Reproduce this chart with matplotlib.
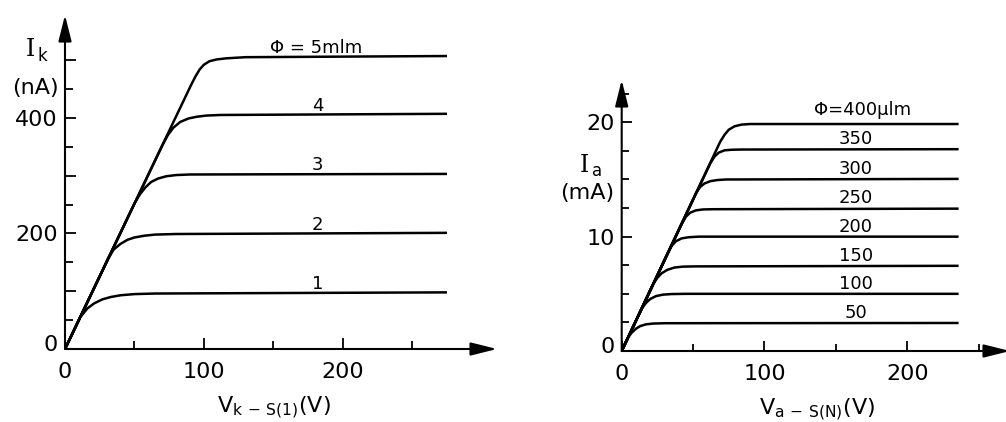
import matplotlib.pyplot as plt
from matplotlib.ticker import MultipleLocator, FixedLocator
from matplotlib.transforms import ScaledTranslation

# cathode current I_k (nA) vs V_k-S(1) (V), one curve per luminous flux
vk_1 = [0, 11, 16, 21, 27, 33, 40, 50, 65, 275]
ik_1 = [0, 55, 70, 79, 86, 90, 93, 95, 96, 98]
vk_2 = [0, 31, 35, 40, 45, 50, 57, 65, 80, 275]
ik_2 = [0, 156, 172, 182, 189, 193, 196, 198, 199, 201]
vk_3 = [0, 50, 54, 58, 62, 67, 73, 80, 90, 275]
ik_3 = [0, 252, 268, 280, 289, 295, 299, 301, 302, 303]
vk_4 = [0, 70, 74, 78, 83, 89, 95, 102, 112, 275]
ik_4 = [0, 352, 370, 383, 393, 399, 402, 404, 405, 407]
vk_5 = [0, 91, 94, 97, 100, 104, 109, 116, 130, 275]
ik_5 = [0, 458, 472, 484, 492, 498, 501, 503, 505, 507]
flux_k = ["1", "2", "3", "4", "\u03a6 = 5mlm"]

# anode current I_a (mA) vs V_a-S(N) (V), flux in ulm
va_50 = [0, 4.5, 7, 10, 13, 17, 22, 30, 236]
ia_50 = [0, 1.2, 1.6, 1.95, 2.18, 2.33, 2.4, 2.43, 2.45]
va_100 = [0, 14, 17, 20, 24, 29, 35, 45, 236]
ia_100 = [0, 3.7, 4.2, 4.55, 4.8, 4.93, 4.98, 5.0, 5.0]
va_150 = [0, 22, 25, 28, 32, 37, 43, 52, 236]
ia_150 = [0, 5.85, 6.4, 6.8, 7.1, 7.3, 7.38, 7.4, 7.45]
va_200 = [0, 32, 35, 38, 42, 47, 54, 236]
ia_200 = [0, 8.5, 9.2, 9.6, 9.85, 9.95, 10.0, 10.0]
va_250 = [0, 42, 45, 48, 52, 57, 64, 236]
ia_250 = [0, 11.1, 11.75, 12.1, 12.3, 12.38, 12.4, 12.45]
va_300 = [0, 52, 55, 58, 62, 67, 73, 236]
ia_300 = [0, 13.8, 14.35, 14.65, 14.85, 14.95, 15.0, 15.05]
va_350 = [0, 62, 65, 68, 72, 77, 84, 236]
ia_350 = [0, 16.4, 17.0, 17.35, 17.55, 17.6, 17.62, 17.65]
va_400 = [0, 69, 72, 75, 79, 84, 90, 100, 236]
ia_400 = [0, 18.3, 18.9, 19.35, 19.65, 19.8, 19.85, 19.85, 19.85]
flux_a = ["50", "100", "150", "200", "250", "300", "350", "\u03a6=400\u03bclm"]

left_curves = [(vk_1, ik_1), (vk_2, ik_2), (vk_3, ik_3), (vk_4, ik_4), (vk_5, ik_5)]
right_curves = [(va_50, ia_50), (va_100, ia_100), (va_150, ia_150), (va_200, ia_200),
                (va_250, ia_250), (va_300, ia_300), (va_350, ia_350), (va_400, ia_400)]

W, H = 1006, 422
fig = plt.figure(figsize=(W / 100, H / 100), dpi=100)


def px(x0, y0, x1, y1):
    # axes rectangle from pixel corners (left, bottom, right, top)
    return [x0 / W, 1 - y0 / H, (x1 - x0) / W, (y0 - y1) / H]


def arrow_axes(ax, major_len, minor_len):
    for s in ax.spines.values():
        s.set_visible(False)
    style = "-|>,head_length=1.6,head_width=0.4"
    kw = dict(arrowstyle=style, color="black", lw=1.5, shrinkA=0, shrinkB=0,
              mutation_scale=10)
    ax.annotate("", xy=(0, 1), xytext=(0, 0), xycoords="axes fraction",
                arrowprops=kw)
    ax.annotate("", xy=(1, 0), xytext=(0, 0), xycoords="axes fraction",
                arrowprops=kw)
    ax.tick_params(which="both", direction="in", width=1.3, labelsize=16,
                   top=False, right=False)
    ax.tick_params(which="major", length=major_len * 0.72)
    ax.tick_params(which="minor", length=minor_len * 0.72)
    ax.tick_params(axis="y", pad=5)
    ax.tick_params(axis="x", pad=9)
    # raise the "0" on the y axis a little, clear of the x axis
    lbl = ax.get_yticklabels()[0]
    lbl.set_transform(lbl.get_transform() + ScaledTranslation(0, 0.06, fig.dpi_scale_trans))


# left: cathode
ax1 = fig.add_axes(px(65, 349, 497, 15))
for (v, i), lab in zip(left_curves, flux_k):
    ax1.plot(v, i, color="black", lw=1.8, solid_capstyle="butt")
    xl = 181 if lab.startswith("\u03a6") else 182
    ax1.text(xl, i[-2] + 7, lab, ha="center", va="baseline", fontsize=13)
ax1.set_xlim(0, 311)
ax1.set_ylim(0, 578)
ax1.xaxis.set_major_locator(FixedLocator([0, 100, 200]))
ax1.xaxis.set_minor_locator(FixedLocator([50, 150, 250]))
ax1.yaxis.set_major_locator(FixedLocator([0, 100, 200, 300, 400, 500]))
ax1.yaxis.set_minor_locator(FixedLocator([50, 150, 250, 350, 450]))
ax1.set_xticklabels(["0", "100", "200"])
ax1.set_yticklabels(["0", "", "200", "", "400", ""])
arrow_axes(ax1, 11, 8)

# right: anode
ax2 = fig.add_axes(px(621.7, 351, 1010, 80))
for (v, i), lab in zip(right_curves, flux_a):
    top = lab.startswith("\u03a6")
    ax2.plot(v, i, color="black", lw=1.8, solid_capstyle="butt")
    ax2.text(169 if top else 164, i[-1] + (0.8 if top else 0.45), lab,
             ha="center", va="baseline", fontsize=13)
ax2.set_xlim(0, 272)
ax2.set_ylim(0, 23.7)
ax2.xaxis.set_major_locator(FixedLocator([0, 100, 200]))
ax2.xaxis.set_minor_locator(FixedLocator([50, 150, 250]))
ax2.yaxis.set_major_locator(FixedLocator([0, 10, 20]))
ax2.yaxis.set_minor_locator(MultipleLocator(2.5))
ax2.set_xticklabels(["0", "100", "200"])
ax2.set_yticklabels(["0", "10", "20"])
arrow_axes(ax2, 10, 7)

# axis titles
def ftext(x, y, s, **kw):
    fig.text(x / W, 1 - y / H, s, ha="center", va="center", **kw)


ftext(30, 50, "I", fontsize=17, family="DejaVu Serif")
ftext(42, 56, "k", fontsize=12)
ftext(35, 88, "(nA)", fontsize=16)
ftext(584, 165, "I", fontsize=17, family="DejaVu Serif")
ftext(597, 171, "a", fontsize=12)
ftext(587, 193, "(mA)", fontsize=16)
ftext(274, 408, r"$\mathrm{V}_{\mathrm{k\,-\,S(1)}}\mathrm{(V)}$", fontsize=16)
ftext(817, 410, r"$\mathrm{V}_{\mathrm{a\,-\,S(N)}}\mathrm{(V)}$", fontsize=16)

fig.savefig("out.png", dpi=100)
